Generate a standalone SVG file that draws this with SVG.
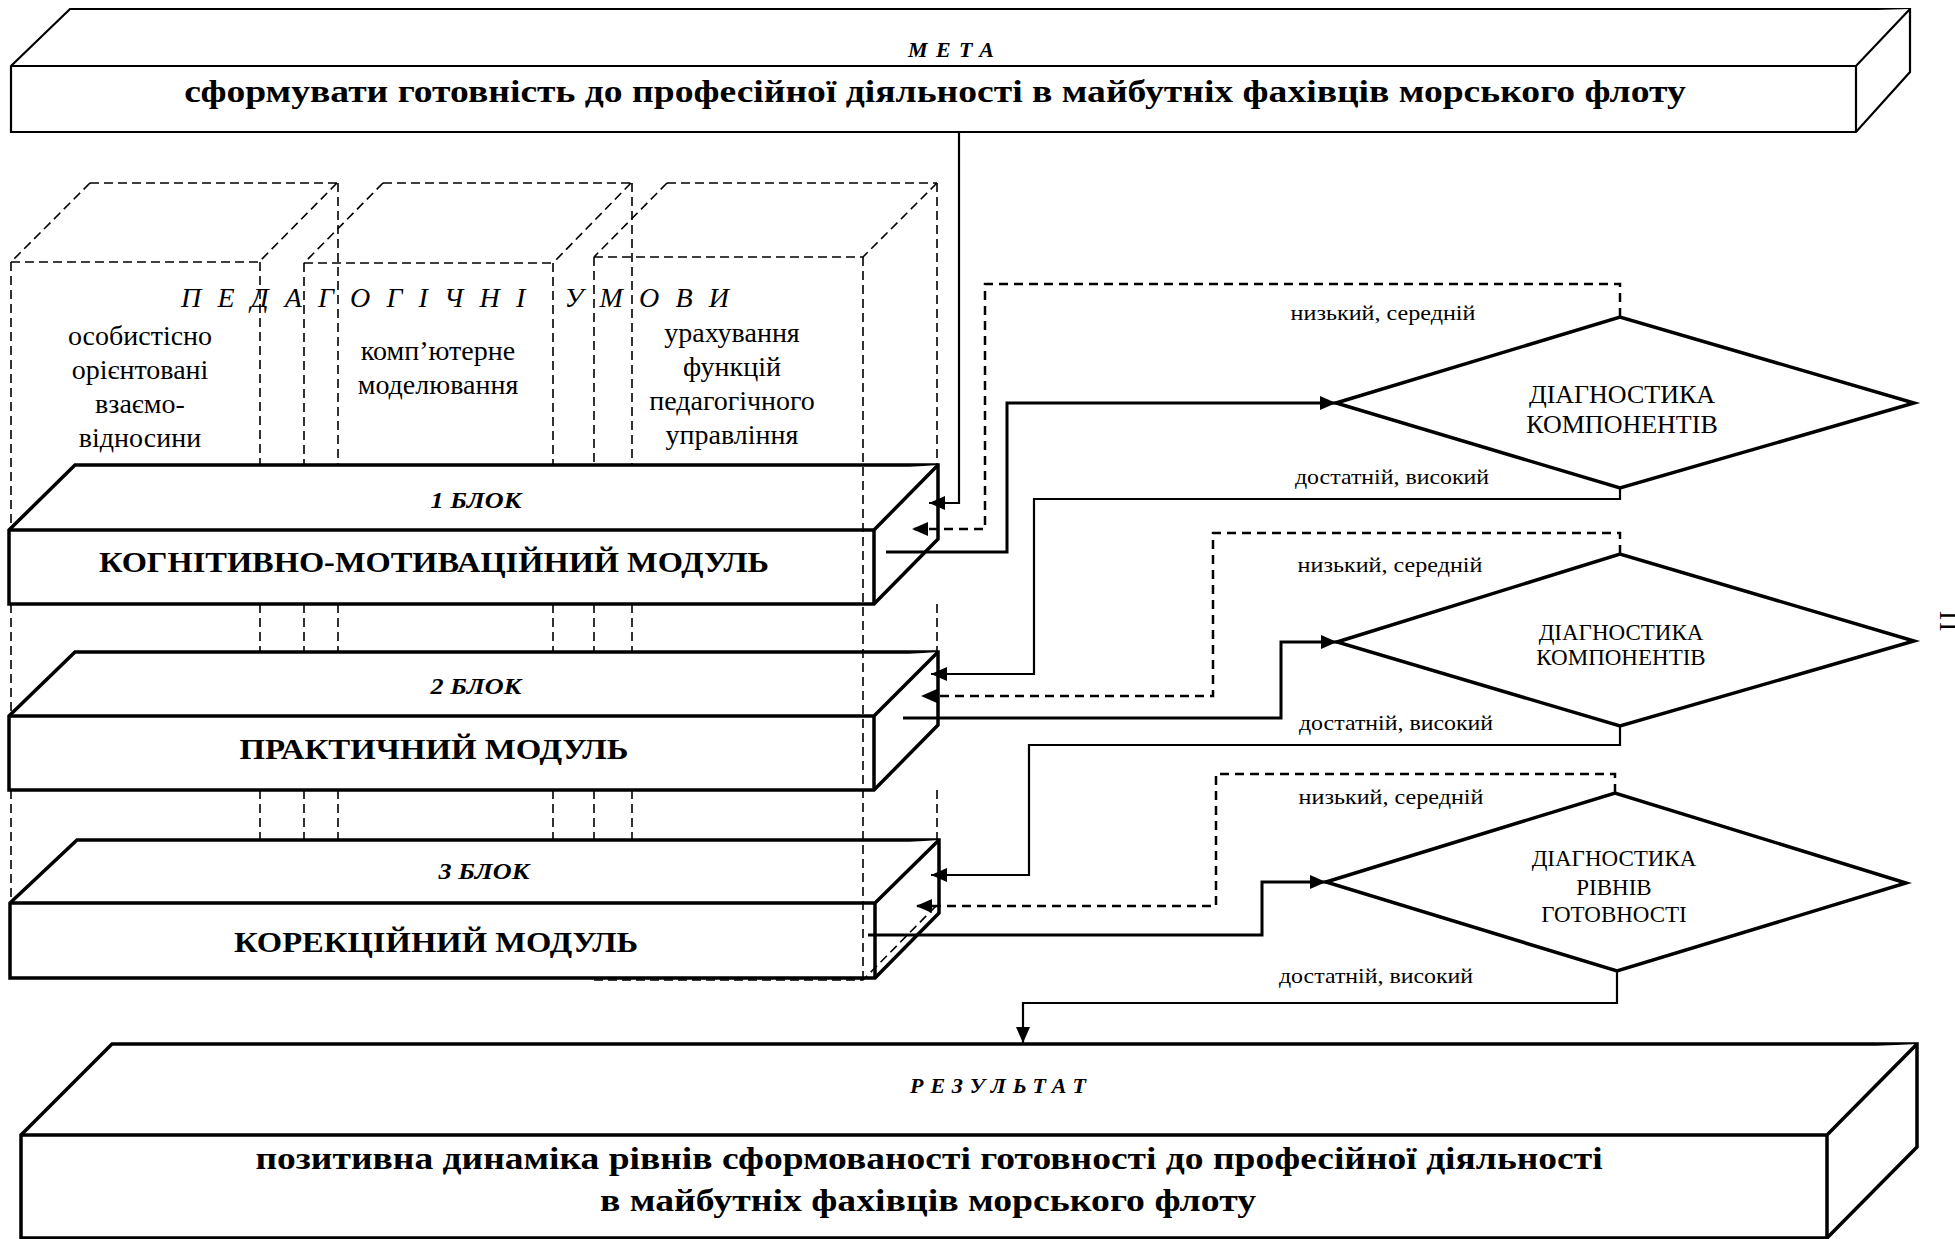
<svg xmlns="http://www.w3.org/2000/svg" width="1955" height="1239" viewBox="0 0 1955 1239">
<defs>
<style>
text{font-family:"Liberation Serif","Times New Roman",serif;fill:#000}
.b{font-weight:bold}
.bi{font-weight:bold;font-style:italic}
.it{font-style:italic}
.box{fill:#fff;stroke:#000;stroke-width:3.5;stroke-linejoin:miter}
.meta{fill:#fff;stroke:#000;stroke-width:2.2}
.dash{fill:none;stroke:#000;stroke-width:1.6;stroke-dasharray:9 5}
.dia{fill:#fff;stroke:#000;stroke-width:3.5}
.thick{fill:none;stroke:#000;stroke-width:3}
.thin{fill:none;stroke:#000;stroke-width:2.2}
.dl{fill:none;stroke:#000;stroke-width:2.5;stroke-dasharray:9 6}
.lbl{font-size:22px}
</style>
<marker id="ah" viewBox="0 0 16 14" refX="16" refY="7" markerWidth="16" markerHeight="14" markerUnits="userSpaceOnUse" orient="auto"><path d="M0,0 L16,7 L0,14 z" fill="#000"/></marker>
</defs>
<rect width="1955" height="1239" fill="#fff"/>

<g id="meta">
<path class="meta" d="M11,66 L70,9 L1910,9 L1910,72 L1856,132 L11,132 Z"/>
<path class="meta" d="M11,66 L1856,66 L1910,9 M1856,66 L1856,132" fill="none"/>
<text class="bi" x="908" y="57" font-size="22" textLength="86" lengthAdjust="spacing">МЕТА</text>
<text class="b" font-size="32" text-anchor="middle" transform="translate(935,102) scale(1.176,1)">сформувати готовність до професійної діяльності в майбутніх фахівців морського флоту</text>
</g>

<g id="conditions">
<g class="dash">
<path d="M11,262 L259,262 M90,183 L337,183 M90,183 L11,262 M337,183 L259,262"/>
<path d="M304,263 L553,263 M383,183 L631,183 M383,183 L304,263 M631,183 L553,263"/>
<path d="M594,257 L863,257 M667,183 L937,183 M667,183 L594,257 M937,183 L863,257"/>
<path d="M11,262 V530 M11,604 V716 M11,790 V903"/>
<path d="M260,262 V530 M260,604 V716 M260,790 V903"/>
<path d="M304,263 V530 M304,604 V716 M304,790 V903"/>
<path d="M553,263 V530 M553,604 V716 M553,790 V903"/>
<path d="M594,257 V530 M594,604 V716 M594,790 V903"/>
<path d="M338,183 V465 M338,604 V652 M338,790 V840"/>
<path d="M632,183 V465 M632,604 V652 M632,790 V840"/>
<path d="M937,183 V465 M937,604 V652 M937,790 V840"/>
</g>
<text class="it" x="181" y="307" font-size="28" textLength="548" lengthAdjust="spacing" xml:space="preserve">П Е Д А Г О Г І Ч Н І   У М О В И</text>
<g font-size="28" text-anchor="middle">
<text x="140" y="345">особистісно</text>
<text x="140" y="379">орієнтовані</text>
<text x="140" y="413">взаємо-</text>
<text x="140" y="447">відносини</text>
<text x="438" y="360">комп’ютерне</text>
<text x="438" y="394">моделювання</text>
<text x="732" y="342">урахування</text>
<text x="732" y="376">функцій</text>
<text x="732" y="410">педагогічного</text>
<text x="732" y="444">управління</text>
</g>
</g>

<g id="module1">
<path class="box" d="M9,530 L75,465 L938,465 L938,539 L874,604 L9,604 Z"/>
<path class="box" d="M9,530 L874,530 L938,465 M874,530 L874,604" fill="none"/>
<text class="bi" font-size="24" text-anchor="middle" transform="translate(476,508) scale(1.09,1)">1 БЛОК</text>
<text class="b" font-size="30" text-anchor="middle" transform="translate(434,572) scale(1.08,1)">КОГНІТИВНО-МОТИВАЦІЙНИЙ МОДУЛЬ</text>
</g>
<g id="module2">
<path class="box" d="M9,716 L75,652 L938,652 L938,725 L874,790 L9,790 Z"/>
<path class="box" d="M9,716 L874,716 L938,652 M874,716 L874,790" fill="none"/>
<text class="bi" font-size="24" text-anchor="middle" transform="translate(476,694) scale(1.09,1)">2 БЛОК</text>
<text class="b" font-size="30" text-anchor="middle" transform="translate(434,759) scale(1.095,1)">ПРАКТИЧНИЙ МОДУЛЬ</text>
</g>
<g id="module3">
<path class="box" d="M10,903 L77,840 L939,840 L939,913 L875,978 L10,978 Z"/>
<path class="box" d="M10,903 L875,903 L939,840 M875,903 L875,978" fill="none"/>
<text class="bi" font-size="24" text-anchor="middle" transform="translate(484,879) scale(1.09,1)">3 БЛОК</text>
<text class="b" font-size="30" text-anchor="middle" transform="translate(436,952) scale(1.088,1)">КОРЕКЦІЙНИЙ МОДУЛЬ</text>
</g>
<g id="conditions-overlay" class="dash">
<path d="M863,257 V980 M594,980 H863 L937,905"/>
</g>

<g id="diag1">
<polygon class="dia" points="1336,403 1620,317 1914,403 1620,488"/>
<text x="1622" y="403" font-size="26" text-anchor="middle">ДІАГНОСТИКА</text>
<text x="1622" y="433" font-size="26" text-anchor="middle">КОМПОНЕНТІВ</text>
</g>
<g id="diag2">
<polygon class="dia" points="1337,642 1620,554 1914,641 1620,726"/>
<text x="1621" y="640" font-size="23" text-anchor="middle">ДІАГНОСТИКА</text>
<text x="1621" y="665" font-size="23" text-anchor="middle">КОМПОНЕНТІВ</text>
</g>
<g id="diag3">
<polygon class="dia" points="1326,882 1615,793 1906,883 1617,971"/>
<text x="1614" y="866" font-size="23" text-anchor="middle">ДІАГНОСТИКА</text>
<text x="1614" y="895" font-size="23" text-anchor="middle">РІВНІВ</text>
<text x="1614" y="922" font-size="23" text-anchor="middle">ГОТОВНОСТІ</text>
</g>

<g id="result">
<path class="box" d="M21,1135 L112,1044 L1917,1044 L1917,1147 L1827,1238 L21,1238 Z"/>
<path class="box" d="M21,1135 L1827,1135 L1917,1044 M1827,1135 L1827,1238" fill="none"/>
<text class="bi" x="910" y="1093" font-size="22" textLength="176" lengthAdjust="spacing">РЕЗУЛЬТАТ</text>
<text class="b" font-size="32" text-anchor="middle" transform="translate(929,1169) scale(1.173,1)">позитивна динаміка рівнів сформованості готовності до професійної діяльності</text>
<text class="b" font-size="32" text-anchor="middle" transform="translate(928,1211) scale(1.18,1)">в майбутніх фахівців морського флоту</text>
</g>

<g id="connectors">
<path class="thin" d="M959,132 V503 H929" marker-end="url(#ah)" stroke-width="2.8"/>
<path class="dl" d="M1620,317 V284 H985 V529 H912" marker-end="url(#ah)"/>
<path class="thick" d="M886,552 H1007 V403 H1336" marker-end="url(#ah)"/>
<path class="thin" d="M1620,488 V499 H1034 V674 H931" marker-end="url(#ah)"/>
<path class="dl" d="M1620,554 V533 H1213 V696 H921" marker-end="url(#ah)"/>
<path class="thick" d="M903,718 H1281 V642 H1337" marker-end="url(#ah)"/>
<path class="thin" d="M1620,726 V745 H1029 V875 H931" marker-end="url(#ah)"/>
<path class="dl" d="M1615,793 V774 H1216 V906 H916" marker-end="url(#ah)"/>
<path class="thick" d="M868,935 H1262 V882 H1326" marker-end="url(#ah)"/>
<path class="thin" d="M1617,971 V1003 H1023 V1043" marker-end="url(#ah)"/>
<g class="lbl" text-anchor="middle">
<text transform="translate(1383,320) scale(1.096,1)">низький, середній</text>
<text transform="translate(1392,484) scale(1.085,1)">достатній, високий</text>
<text transform="translate(1390,572) scale(1.096,1)">низький, середній</text>
<text transform="translate(1396,730) scale(1.085,1)">достатній, високий</text>
<text transform="translate(1391,804) scale(1.096,1)">низький, середній</text>
<text transform="translate(1376,983) scale(1.085,1)">достатній, високий</text>
</g>
</g>
<text x="1940" y="611" font-size="28" transform="rotate(90 1940 611)">П</text>
</svg>
